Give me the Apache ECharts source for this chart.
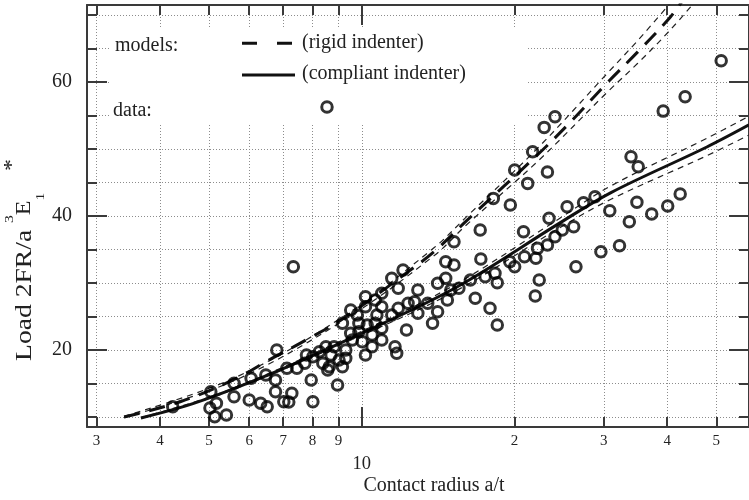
<!DOCTYPE html>
<html><head><meta charset="utf-8">
<script src="https://cdn.jsdelivr.net/npm/echarts@6/dist/echarts.min.js"></script>
<style>html,body{margin:0;padding:0;background:#fff}#c{width:749px;height:500px}</style>
</head><body><div id="c"></div>
<script>
// ---- data (a/t values, load values) ----
const dataX = [4.24,5.04,5.17,5.13,5.41,5.02,5.60,5.60,6.05,6.00,6.32,6.51,6.47,6.76,6.76,7.02,7.18,7.28,7.12,7.45,6.80,7.33,7.72,7.95,8.01,8.57,8.96,9.02,9.16,9.51,
  7.78,8.01,8.25,8.38,8.50,8.63,8.70,8.82,9.16,9.30,9.30,9.80,10.17,10.17,10.25,9.87,9.51,9.87,10.48,10.02,9.58,10.48,10.17,10.63,10.71,10.63,10.95,10.95,12.25,11.63,11.72,
  11.46,12.06,11.80,10.95,12.90,14.11,14.64,15.54,14.75,14.11,13.79,12.34,11.80,11.46,10.95,15.20,14.64,15.20,16.37,17.17,17.51,18.31,18.50,16.74,17.90,18.50,12.90,13.49,12.71,14.98,
  21.24,18.17,19.63,25.40,23.40,17.12,20.84,24.84,24.04,23.23,22.21,19.58,20.02,20.93,22.04,22.38,21.98,26.17,26.44,27.37,28.83,30.83,34.87,33.69,37.29,40.10,42.44,32.22,29.61,
  33.95,35.08,20.02,23.23,21.72,22.89,24.04,39.29,43.40,51.12,8.54];
const dataY = [11.53,13.77,12.04,10.04,10.29,11.34,15.02,13.02,15.77,12.53,12.04,11.53,16.26,15.51,13.77,12.28,12.23,13.53,17.26,17.26,20.0,32.43,18.01,15.51,12.28,17.01,14.77,18.50,23.98,22.48,
  19.25,18.99,19.74,18.01,20.49,17.50,19.25,20.49,17.50,20.0,18.75,25.22,26.46,27.95,23.72,23.98,25.96,22.72,22.23,21.23,21.48,20.49,19.25,27.45,25.22,23.98,21.48,23.23,22.98,20.49,19.50,
  30.69,31.93,29.20,28.46,28.95,29.95,30.69,29.20,27.45,25.71,23.98,26.96,26.22,25.22,26.46,36.16,33.17,32.68,30.44,33.57,30.93,31.44,30.04,27.71,26.22,23.72,25.47,26.96,27.20,28.95,
  44.87,42.63,41.63,41.38,39.65,37.90,37.65,37.90,36.90,35.66,35.17,33.17,32.43,33.92,33.68,30.44,28.05,38.40,32.43,41.98,42.87,40.78,42.04,39.14,40.29,41.48,43.28,35.56,34.66,
  48.84,47.35,46.86,46.56,49.59,53.23,54.81,55.66,57.80,63.17,56.26];

const rigidX = [3.4,4.4,5.6,6.6,7.6,9.2,12.3,13.9,16.1,22.4,26,30.4,35,40.6,43.2];
const rigidY = [10,12.3,15.6,18.6,21.1,24.7,31.6,34.7,39.3,49.4,54.3,59.8,64.5,69.7,72.5];
const rigidUpX = [3.4,5.6,9.2,13.9,16.1,22.4,30.4,35,40.6];
const rigidUpY = [10.1,15.8,25.0,35.3,39.9,50.4,61.2,66.2,71.8];
const rigidLoX = [3.4,5.6,9.2,13.9,16.1,22.4,30.4,35,40.6,46];
const rigidLoY = [9.9,15.4,24.4,34.1,38.7,48.4,58.4,62.8,67.8,72.5];

const compX = [3.67,4.5,5.37,7,10,15.4,24.5,31,47.9,58];
const compY = [9.85,11.65,13.7,17.2,22.5,29.4,38.9,43.5,50.3,53.6];
const compUpX = [3.67,5.37,10,15.4,24.5,31,47.9,58];
const compUpY = [9.9,13.8,22.8,29.9,39.6,44.5,51.6,54.9];
const compLoX = [3.67,5.37,10,15.4,24.5,31,47.9,58];
const compLoY = [9.8,13.6,22.2,28.9,38.2,42.5,49.0,52.1];

const xTickVals = [3,4,5,6,7,8,9,10,20,30,40,50];
const xTickText = ['3','4','5','6','7','8','9','10','2','3','4','5'];
const xMajorVals = [10];
const yTickVals = [10,15,20,25,30,35,40,45,50,55,60,65,70];
const yLabelVals = [20,40,60];
const xLimits = [2.873, 58.0];
const yLimits = [8.5, 71.5];

// ---- chart ----
const LOG = v => Math.log10(v);
const FF = '"Liberation Serif","Times New Roman",serif';
const AX = '#3a3a3a', TX = '#222';
const pairs = (xs, ys) => xs.map((x, i) => [LOG(x), ys[i]]);
const fmtX = v => { const k = xTickVals.findIndex(t => Math.abs(LOG(t) - v) < 1e-6); return k < 0 ? '' : xTickText[k]; };
const xmin = LOG(xLimits[0]), xmax = LOG(xLimits[1]);
const tickStyle = {color: AX, width: 2};
const gridLine = {show: true, lineStyle: {type: [1, 2], color: '#8c8c8c', width: 1}};

function xAx(pos, vals, len, line, labels, split, labelOpt) {
  return {type: 'value', position: pos, min: xmin, max: xmax,
    axisLine: {show: line, onZero: false, lineStyle: {color: AX, width: 2}},
    axisTick: {show: true, inside: true, length: len, customValues: vals.map(LOG), lineStyle: tickStyle},
    axisLabel: labels ? Object.assign({customValues: labels.map(LOG), formatter: fmtX, fontFamily: FF, color: TX}, labelOpt) : {show: false},
    splitLine: split ? gridLine : {show: false}};
}
function yAx(pos, vals, len, line, labels, split) {
  return {type: 'value', position: pos, min: yLimits[0], max: yLimits[1],
    axisLine: {show: line, onZero: false, lineStyle: {color: AX, width: 2}},
    axisTick: {show: true, inside: true, length: len, customValues: vals, lineStyle: tickStyle},
    axisLabel: labels ? {customValues: labels, margin: 15, fontSize: 20, fontFamily: FF, color: TX} : {show: false},
    splitLine: split ? gridLine : {show: false}};
}

const chart = echarts.init(document.getElementById('c'), null, {renderer: 'canvas'});
chart.setOption({
  animation: false,
  backgroundColor: '#fff',
  grid: {left: 87, right: -11, top: 5, bottom: 73, containLabel: false},
  xAxis: [
    xAx('bottom', xTickVals, 10, true, xTickVals.filter(v => v !== 10), true, {margin: 7, fontSize: 15}),
    xAx('bottom', xMajorVals, 20, false, xMajorVals, false, {margin: 28, fontSize: 18.5}),
    xAx('top', xTickVals, 10, true, null, false),
    xAx('top', xMajorVals, 20, false, null, false)
  ],
  yAxis: [
    yAx('left', yTickVals, 10, true, yLabelVals, true),
    yAx('left', yLabelVals, 20, false, null, false),
    yAx('right', yTickVals, 10, true, null, false),
    yAx('right', yLabelVals, 20, false, null, false)
  ],
  series: [
    {type: 'line', data: pairs(rigidUpX, rigidUpY), smooth: 0.35, showSymbol: false, lineStyle: {color: '#222', width: 1.2, type: [6, 5]}, z: 3},
    {type: 'line', data: pairs(rigidLoX, rigidLoY), smooth: 0.35, showSymbol: false, lineStyle: {color: '#222', width: 1.2, type: [6, 5]}, z: 3},
    {type: 'line', data: pairs(compUpX, compUpY), smooth: 0.35, showSymbol: false, lineStyle: {color: '#222', width: 1.2, type: [6, 5]}, z: 3},
    {type: 'line', data: pairs(compLoX, compLoY), smooth: 0.35, showSymbol: false, lineStyle: {color: '#222', width: 1.2, type: [6, 5]}, z: 3},
    {type: 'line', data: pairs(rigidX, rigidY), smooth: 0.35, showSymbol: false, lineStyle: {color: '#111', width: 3, type: [16, 10]}, z: 3},
    {type: 'line', data: pairs(compX, compY), smooth: 0.35, showSymbol: false, lineStyle: {color: '#111', width: 3}, z: 3},
    {type: 'scatter', data: pairs(dataX, dataY), symbol: 'circle', symbolSize: 10.5,
      itemStyle: {color: 'rgba(0,0,0,0)', borderColor: '#000', borderWidth: 3}, z: 4}
  ],
  graphic: [
    {type: 'rect', z: 1, silent: true, shape: {x: 110, y: 28, width: 418, height: 95}, style: {fill: '#fff'}},
    {type: 'text', z: 5, x: 115, y: 46, style: {text: 'models:', fontSize: 20, fontFamily: FF, fill: TX, verticalAlign: 'middle'}},
    {type: 'line', z: 5, shape: {x1: 242, y1: 43.3, x2: 292, y2: 43.3}, style: {stroke: '#111', lineWidth: 3, lineDash: [15, 20]}},
    {type: 'text', z: 5, x: 302, y: 42.5, style: {text: '(rigid indenter)', fontSize: 20, fontFamily: FF, fill: TX, verticalAlign: 'middle'}},
    {type: 'line', z: 5, shape: {x1: 242, y1: 75, x2: 295, y2: 75}, style: {stroke: '#111', lineWidth: 3}},
    {type: 'text', z: 5, x: 302, y: 74, style: {text: '(compliant indenter)', fontSize: 20, fontFamily: FF, fill: TX, verticalAlign: 'middle'}},
    {type: 'text', z: 5, x: 113, y: 111, style: {text: 'data:', fontSize: 20, fontFamily: FF, fill: TX, verticalAlign: 'middle'}},
    {type: 'text', z: 5, x: 434, y: 486, style: {text: 'Contact radius a/t', fontSize: 20, fontFamily: FF, fill: TX, align: 'center', verticalAlign: 'middle'}},
    {type: 'text', z: 5, x: 25, y: 260, rotation: Math.PI / 2, scaleX: 1.2,
      style: {text: '{m|Load 2FR/a }{sp|3}{e|E}{sb|1}{st|*}', fill: TX, align: 'center', verticalAlign: 'middle',
        rich: {
          m: {fontSize: 23, fontFamily: FF, fill: TX, lineHeight: 44, verticalAlign: 'middle'},
          e: {fontSize: 20, fontFamily: FF, fill: TX, lineHeight: 44, verticalAlign: 'middle'},
          sp: {fontSize: 13, fontFamily: FF, fill: TX, lineHeight: 13, verticalAlign: 'top'},
          sb: {fontSize: 13, fontFamily: FF, fill: TX, lineHeight: 13, verticalAlign: 'bottom'},
          st: {fontSize: 20, fontFamily: FF, fill: TX, lineHeight: 34, verticalAlign: 'top', padding: [0, 0, 0, 18]}
        }}}
  ]
});
</script>
</body></html>
